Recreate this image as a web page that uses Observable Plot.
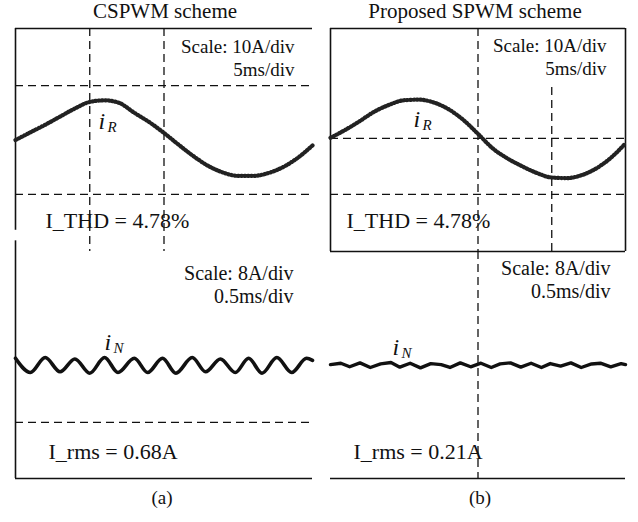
<!DOCTYPE html>
<html><head><meta charset="utf-8">
<script src="https://cdn.jsdelivr.net/npm/d3@7"></script>
<script src="https://cdn.jsdelivr.net/npm/@observablehq/plot@0.6"></script>
<style>
body{margin:0;background:#fff;}
#root{position:relative;width:638px;height:522px;font-family:"Liberation Serif","Times New Roman",serif;color:#111;overflow:hidden;}
.lbl{position:absolute;white-space:nowrap;transform:translateX(-50%);line-height:1;}
</style></head><body><div id="root"></div>
<script>
// ---- data ----
const titles = ["CSPWM scheme", "Proposed SPWM scheme"];
const subLabels = ["(a)", "(b)"];
const scaleTopLabel = "Scale: 10A/div\n5ms/div";
const scaleBottomLabel = "Scale: 8A/div\n0.5ms/div";
const thdLabels = ["I_THD = 4.78%", "I_THD = 4.78%"];
const rmsLabels = ["I_rms = 0.68A", "I_rms = 0.21A"];

// phase current i_R (A) vs time (ms), 5 ms/div
const timeR = [0,1,2,3,4,5,6,7,8,9,10,11,12,13,14,15,16,17,18,19,20];
const iR_cspwm    = [0.0,1.4,2.8,4.3,5.8,7.0,7.3,6.8,5.0,3.3,1.3,-0.9,-3.0,-4.8,-6.0,-6.6,-6.6,-6.1,-5.0,-3.3,-1.0];
const iR_proposed = [0.1,1.5,3.1,4.8,6.0,6.8,6.9,6.4,5.2,3.3,0.8,-1.8,-3.6,-5.0,-6.2,-7.0,-7.1,-6.6,-5.4,-3.5,-0.9];

// neutral current i_N (A) vs time (ms), 0.5 ms/div
const timeN_cspwm = [0.0,0.10,0.20,0.30,0.40,0.50,0.60,0.69,0.80,0.89,0.99,1.08,1.19,1.28,1.38,1.48,1.57,1.66,1.76,1.86,1.96,2.0];
const iN_cspwm    = [1.0,-1.0,1.1,-0.9,0.9,-1.1,1.1,-1.0,1.0,-1.0,1.0,-1.1,1.1,-0.9,0.9,-1.0,1.0,-1.1,1.1,-1.0,1.0,0.7];
const timeN_proposed = [0,0.07,0.13,0.2,0.27,0.34,0.41,0.47,0.54,0.61,0.68,0.75,0.81,0.88,0.95,1.02,1.09,1.15,1.22,1.29,1.36,1.43,1.49,1.56,1.63,1.70,1.77,1.83,1.90,1.97,2.0];
const iN_proposed    = [0.1,0.3,-0.2,0.35,-0.3,0.2,0.4,-0.25,0.3,-0.35,0.25,0.1,-0.3,0.35,-0.2,0.3,-0.3,0.2,0.35,-0.25,0.3,-0.3,0.25,-0.1,0.35,-0.3,0.2,0.3,-0.2,0.25,0.1];

const rData = (ys) => timeR.map((t, i) => ({t, v: ys[i]}));
const nData = (ts, ys) => ts.map((t, i) => ({t, v: ys[i]}));

// ---- drawing ----
const root = document.getElementById("root");
const FONT = "Liberation Serif, Times New Roman, serif";
const INK = "#111";
const M = 6;
const dash = {stroke: INK, strokeWidth: 1.3, strokeDasharray: "8,5"};
const solid = {stroke: INK, strokeWidth: 1.6};

function panel({left, top, width, height, xDomain, yDomain, marks}) {
  const svg = Plot.plot({
    width: width + 2 * M, height: height + 2 * M,
    margin: M,
    x: {domain: xDomain, axis: null},
    y: {domain: yDomain, axis: null},
    style: {background: "transparent", overflow: "visible"},
    marks
  });
  svg.setAttribute("font-family", FONT);
  svg.style.fontFamily = FONT;
  d3.select(svg).selectAll("text, tspan").attr("font-family", FONT).style("font-family", FONT);
  svg.style.position = "absolute";
  svg.style.left = (left - M) + "px";
  svg.style.top = (top - M) + "px";
  root.append(svg);
}
const txt = (s, o) => Plot.text([s], {text: d => d, fill: INK, lineAnchor: "bottom", ...o});
const waveR = (ys) => [
  Plot.line(rData(ys), {x: "t", y: "v", curve: "monotone-x", stroke: "#333", strokeWidth: 1.0}),
  Plot.line(rData(ys), {x: "t", y: "v", curve: "monotone-x", stroke: "#222", strokeWidth: 4.2, strokeDasharray: "0.9,2.4"})
];
const subLabel = (x, y, main, sub) => [
  Plot.text([{x, y}], {x: "x", y: "y", text: () => main, fontStyle: "italic", fontSize: 24, textAnchor: "start", lineAnchor: "bottom", fill: INK}),
  Plot.text([{x, y}], {x: "x", y: "y", text: () => sub, fontStyle: "italic", fontSize: 15, textAnchor: "start", lineAnchor: "bottom", dx: 9, dy: 3, fill: INK})
];

// (a) top
panel({left: 15, top: 28, width: 297, height: 223, xDomain: [0, 20], yDomain: [-20.5, 20.5], marks: [
  Plot.ruleX([{x: 0, y1: -16.6, y2: 20.5}], {x: "x", y1: "y1", y2: "y2", ...solid}),
  Plot.ruleY([20.5], solid),
  Plot.ruleX([5, 10], dash),
  Plot.ruleY([10, -10], dash),
  ...waveR(iR_cspwm),
  ...subLabel(5.59, 2.1, "i", "R"),
  txt(scaleTopLabel, {frameAnchor: "top-right", textAnchor: "end", dx: -18, dy: 47, fontSize: 19, lineHeight: 1.2}),
  txt(thdLabels[0], {frameAnchor: "bottom-left", textAnchor: "start", dx: 30, dy: -24, fontSize: 22})
]});

// (a) bottom
panel({left: 15, top: 251, width: 297, height: 227, xDomain: [0, 2], yDomain: [-15.9, 16.0], marks: [
  Plot.ruleX([{x: 0, y1: -15.9, y2: 17.5}], {x: "x", y1: "y1", y2: "y2", ...solid}),
  Plot.ruleY([-15.9], solid),
  Plot.ruleY([-8], dash),
  Plot.line(nData(timeN_cspwm, iN_cspwm), {x: "t", y: "v", curve: "monotone-x", stroke: INK, strokeWidth: 3.6, strokeLinejoin: "round"}),
  ...subLabel(0.60, 2.1, "i", "N"),
  txt(scaleBottomLabel, {frameAnchor: "top-right", textAnchor: "end", dx: -19, dy: 51, fontSize: 20, lineHeight: 1.15}),
  txt(rmsLabels[0], {frameAnchor: "bottom-left", textAnchor: "start", dx: 33, dy: -20, fontSize: 22})
]});

// (b) top
panel({left: 330, top: 28, width: 295, height: 223, xDomain: [0, 20], yDomain: [-20.2, 19.6], marks: [
  Plot.ruleX([0, 20], solid),
  Plot.ruleY([19.6], solid),
  Plot.ruleX([10], dash),
  Plot.ruleX([{x: 15, y1: -20.2, y2: 9.6}], {x: "x", y1: "y1", y2: "y2", ...dash}),
  Plot.ruleY([0, -10], dash),
  ...waveR(iR_proposed),
  ...subLabel(5.63, 2.0, "i", "R"),
  txt(scaleTopLabel, {frameAnchor: "top-right", textAnchor: "end", dx: -19, dy: 46, fontSize: 19, lineHeight: 1.2}),
  txt(thdLabels[1], {frameAnchor: "bottom-left", textAnchor: "start", dx: 16, dy: -24, fontSize: 22})
]});

// (b) bottom
panel({left: 330, top: 251, width: 295, height: 227, xDomain: [0, 2], yDomain: [-15.9, 16.0], marks: [
  Plot.ruleY([16.0, -15.9], solid),
  Plot.ruleX([1.0], dash),
  Plot.line(nData(timeN_proposed, iN_proposed), {x: "t", y: "v", stroke: INK, strokeWidth: 3.4, strokeLinejoin: "round"}),
  ...subLabel(0.42, 1.4, "i", "N"),
  txt(scaleBottomLabel, {frameAnchor: "top-right", textAnchor: "end", dx: -15, dy: 46, fontSize: 20, lineHeight: 1.15}),
  txt(rmsLabels[1], {frameAnchor: "bottom-left", textAnchor: "start", dx: 23, dy: -20, fontSize: 22})
]});

// titles and panel letters
const addLabel = (text, cx, top, size) => {
  const d = document.createElement("div");
  d.className = "lbl";
  d.textContent = text;
  d.style.left = cx + "px";
  d.style.top = top + "px";
  d.style.fontSize = size + "px";
  root.append(d);
};
addLabel(titles[0], 165, 1, 21);
addLabel(titles[1], 475, 1, 21);
addLabel(subLabels[0], 162, 488, 19);
addLabel(subLabels[1], 480, 488, 19);
</script></body></html>
